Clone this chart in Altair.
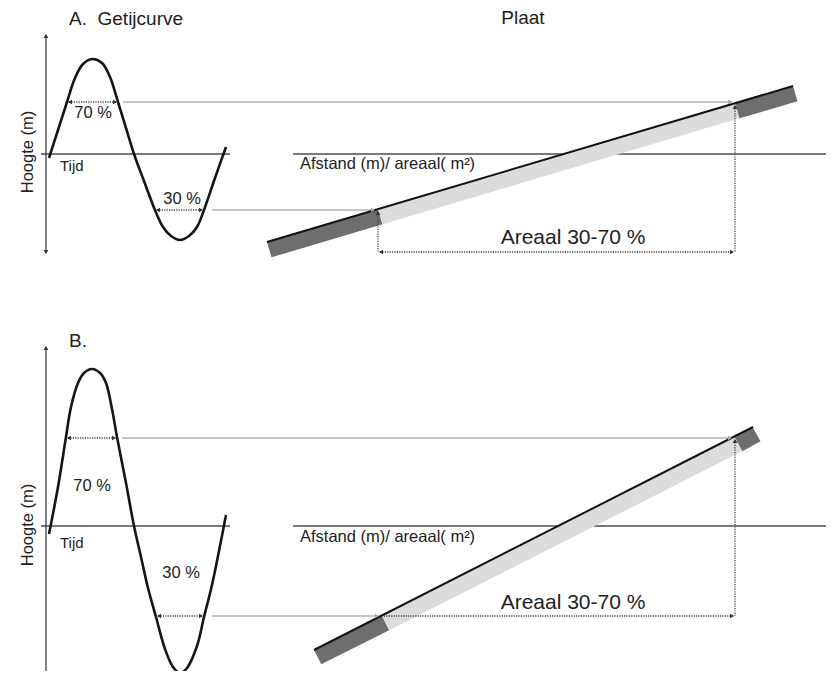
import math
import altair as alt
import pandas as pd

# ---------------- data (page pixel coordinates) ----------------
panels = ["A", "B"]

# tide curves (Getijcurve): time position / height position readings
tide_time_a = [49, 58, 67, 75, 83, 92, 102, 110, 118, 126, 134, 144, 155, 163, 171, 180, 189, 197, 204, 215, 226]
tide_height_a = [158, 130, 102, 78, 64, 59, 63, 77, 102, 128, 154, 181, 210, 227, 236, 240, 236, 227, 210, 178, 147]
tide_time_b = [49, 58, 66, 71, 78, 84, 92, 100, 106, 112, 117, 126, 134, 141, 148, 156, 165, 173, 180, 187, 197, 204, 212, 219, 226]
tide_height_b = [534, 487, 437, 407, 383, 373, 369, 373, 383, 409, 437, 483, 526, 557, 588, 617, 649, 667, 673, 668, 646, 617, 585, 551, 515]

# reference levels per panel
zero_level = [154, 526]
level_70 = [102, 438]
level_30 = [210, 616]
axis_top = [33, 345]
axis_bottom = [255, 677]

# crossings of the 70 % / 30 % levels with the tide curve
cross70_left = [67, 66]
cross70_right = [118, 117]
cross30_left = [155, 156]
cross30_right = [204, 204]

# plate (Plaat) profile: start, 30 % point, 70 % point, end
plate_x = [[267, 378, 735, 793], [314, 382, 735, 753]]
plate_y = [[242, 209, 103, 86], [650, 616, 437, 427]]

# Areaal dimension arrow level
areaal_level = [252, 616]
areaal_label_y = [238, 603]

# texts
title_texts = ["A.\u00a0\u00a0Getijcurve", "B."]
title_y = [19, 341]
plaat_text = "Plaat"
y_label = "Hoogte (m)"
y_label_pos = [152, 525]
x_label_tide = "Tijd"
tijd_y = [166, 543]
x_label_plate = "Afstand (m)/ areaal( m²)"
afstand_y = [164, 537]
pct70_pos = [(93, 113), (92, 486)]
pct30_pos = [(182, 199), (181, 573)]
areaal_text = "Areaal 30-70 %"

# ---------------- build tables ----------------
X = lambda f="x": alt.X(f"{f}:Q", scale=alt.Scale(domain=[8, 826], nice=False, zero=False), axis=None)
Y = lambda f="y": alt.Y(f"{f}:Q", scale=alt.Scale(domain=[8, 671], nice=False, zero=False, reverse=True), axis=None)

tide = pd.DataFrame(
    [{"panel": "A", "x": a, "y": b} for a, b in zip(tide_time_a, tide_height_a)]
    + [{"panel": "B", "x": a, "y": b} for a, b in zip(tide_time_b, tide_height_b)]
)

zero_rows, axis_rows, leader_rows, dotted_rows = [], [], [], []
heads = []  # x, y, shape, kind
for i in range(2):
    z = zero_level[i]
    zero_rows += [dict(x=41, y=z, x2=230, y2=z), dict(x=293, y=z, x2=826, y2=z)]
    axis_rows.append(dict(x=46, y=axis_top[i] + 2, x2=46, y2=axis_bottom[i] - 2))
    heads += [dict(x=46, y=axis_top[i] + 3, shape="triangle-up", kind="axis"),
              dict(x=46, y=axis_bottom[i] - 3, shape="triangle-down", kind="axis")]
    px, py = plate_x[i], plate_y[i]
    # gray leader lines from the curve to the plate
    leader_rows += [dict(x=cross70_right[i] + 5, y=level_70[i], x2=px[2] - 3, y2=level_70[i]),
                    dict(x=cross30_right[i] + 8, y=level_30[i], x2=px[1] - 3, y2=level_30[i])]
    heads += [dict(x=px[2] - 5, y=level_70[i], shape="triangle-right", kind="leader"),
              dict(x=px[1] - 5, y=level_30[i], shape="triangle-right", kind="leader")]
    # dotted 70 % / 30 % widths on the curve
    for (l, r, lev) in [(cross70_left[i], cross70_right[i], level_70[i]),
                        (cross30_left[i], cross30_right[i], level_30[i])]:
        dotted_rows.append(dict(x=l + 2, y=lev, x2=r - 2, y2=lev))
        heads += [dict(x=l + 3, y=lev, shape="triangle-left", kind="dot"),
                  dict(x=r - 3, y=lev, shape="triangle-right", kind="dot")]
    # Areaal dimension
    al = areaal_level[i]
    dotted_rows.append(dict(x=px[1] + 2, y=al, x2=px[2] - 2, y2=al))
    dotted_rows.append(dict(x=px[2], y=py[2] + 3, x2=px[2], y2=al))
    heads += [dict(x=px[2] - 3, y=al, shape="triangle-right", kind="dot"),
              dict(x=px[2], y=py[2] + 4, shape="triangle-up", kind="dot")]
    if al != py[1]:
        dotted_rows.append(dict(x=px[1], y=py[1] + 3, x2=px[1], y2=al))
        heads += [dict(x=px[1] + 3, y=al, shape="triangle-left", kind="dot"),
                  dict(x=px[1], y=py[1] + 4, shape="triangle-up", kind="dot")]

# plate bands: thick strokes lying just below the plate surface line
band_rows, surface_rows = [], []
half = 8
for i in range(2):
    px, py = plate_x[i], plate_y[i]
    dx, dy = px[3] - px[0], py[3] - py[0]
    L = math.hypot(dx, dy)
    ox, oy = -dy / L * half, dx / L * half
    for k, tone in [(0, "dark"), (1, "light"), (2, "dark")]:
        band_rows.append(dict(x=px[k] + ox, y=py[k] + oy, x2=px[k + 1] + ox, y2=py[k + 1] + oy, tone=tone))
    surface_rows.append(dict(x=px[0], y=py[0], x2=px[3], y2=py[3]))

zero_df = pd.DataFrame(zero_rows)
axis_df = pd.DataFrame(axis_rows)
leader_df = pd.DataFrame(leader_rows)
dotted_df = pd.DataFrame(dotted_rows)
heads_df = pd.DataFrame(heads)
band_df = pd.DataFrame(band_rows)
surface_df = pd.DataFrame(surface_rows)

# texts
left_texts = []
center_texts = []
for i in range(2):
    left_texts.append(dict(x=69, y=title_y[i], t=title_texts[i], fs=19))
    left_texts.append(dict(x=60, y=tijd_y[i], t=x_label_tide, fs=15))
    left_texts.append(dict(x=300, y=afstand_y[i], t=x_label_plate, fs=16.5))
    center_texts.append(dict(x=pct70_pos[i][0], y=pct70_pos[i][1], t="70 %", fs=16.5, ang=0))
    center_texts.append(dict(x=pct30_pos[i][0], y=pct30_pos[i][1], t="30 %", fs=16.5, ang=0))
    center_texts.append(dict(x=573, y=areaal_label_y[i], t=areaal_text, fs=21, ang=0))
    center_texts.append(dict(x=28, y=y_label_pos[i], t=y_label, fs=16.5, ang=270))
center_texts.append(dict(x=523, y=18, t=plaat_text, fs=19, ang=0))
left_df = pd.DataFrame(left_texts)
center_df = pd.DataFrame(center_texts)


def seg(df):
    return alt.Chart(df).encode(x=X(), y=Y(), x2="x2:Q", y2="y2:Q")


layers = [
    seg(zero_df).mark_rule(color="#4d4d4d", strokeWidth=1.3),
    seg(axis_df).mark_rule(color="#333333", strokeWidth=1.2),
    seg(leader_df).mark_rule(color="#b3b3b3", strokeWidth=1.6),
    alt.Chart(band_df).mark_rule(strokeWidth=16, strokeCap="butt").encode(
        x=X(), y=Y(), x2="x2:Q", y2="y2:Q",
        color=alt.Color("tone:N", scale=alt.Scale(domain=["dark", "light"], range=["#6e6e6e", "#dcdcdc"]), legend=None),
    ),
    seg(surface_df).mark_rule(color="#111111", strokeWidth=2),
    alt.Chart(tide).mark_line(color="#151515", strokeWidth=2.6, interpolate="catmull-rom").encode(
        x=X(), y=Y(), detail="panel:N", order="x:Q"
    ),
    seg(dotted_df).mark_rule(color="#444444", strokeWidth=1.3, strokeDash=[1.2, 1.2]),
    alt.Chart(heads_df).mark_point(filled=True, opacity=1, size=22).encode(
        x=X(), y=Y(),
        shape=alt.Shape("shape:N", scale=None),
        color=alt.Color("kind:N", scale=alt.Scale(domain=["axis", "leader", "dot"],
                                                  range=["#333333", "#a8a8a8", "#333333"]), legend=None),
    ),
    alt.Chart(left_df).mark_text(align="left", baseline="middle", font="Liberation Sans", color="#222222").encode(
        x=X(), y=Y(), text="t:N", size=alt.Size("fs:Q", scale=None)
    ),
    alt.Chart(center_df).mark_text(align="center", baseline="middle", font="Liberation Sans", color="#222222").encode(
        x=X(), y=Y(), text="t:N", size=alt.Size("fs:Q", scale=None), angle=alt.Angle("ang:Q", scale=None)
    ),
]

chart = alt.layer(*layers).properties(
    width=818, height=663, autosize=alt.AutoSizeParams(type="none"), padding=0
).configure_view(strokeWidth=0).resolve_scale(color="independent")

chart.save("out.html", embed_options={"renderer": "svg", "actions": False})
